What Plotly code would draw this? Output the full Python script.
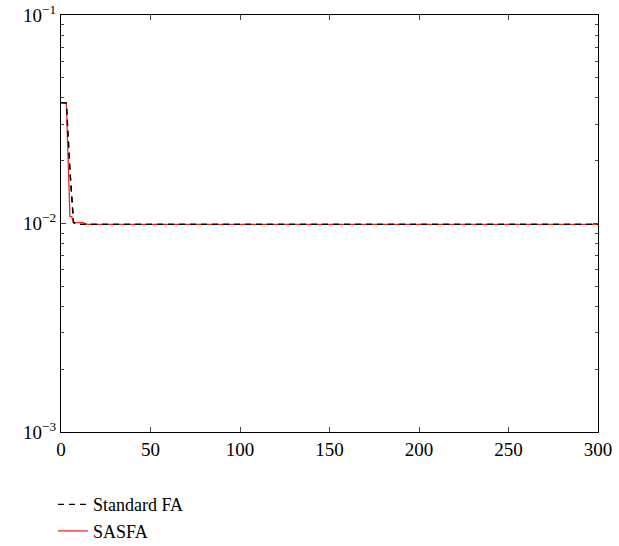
import plotly.graph_objects as go

# Standard FA convergence curve
fa_x = [0, 1, 2, 3, 5, 7, 8, 10, 15, 20, 300]
fa_y = [0.038, 0.038, 0.038, 0.0378, 0.018, 0.0101, 0.0100, 0.0099, 0.0099, 0.0099, 0.0099]

# SASFA convergence curve
sasfa_x = [0, 1, 2, 3, 5, 6, 7, 12, 15, 300]
sasfa_y = [0.038, 0.038, 0.038, 0.0375, 0.0108, 0.0108, 0.0101, 0.0101, 0.0099, 0.0099]

x_ticks = [0, 50, 100, 150, 200, 250, 300]
y_ticks = [0.001, 0.01, 0.1]
y_ticktext = ["10<sup>\u22123</sup>", "10<sup>\u22122</sup>", "10<sup>\u22121</sup>"]
y_minor = [k * 10.0 ** e for e in (-3, -2) for k in range(2, 10)]

fig = go.Figure()
fig.add_trace(go.Scatter(x=fa_x, y=fa_y, mode="lines", name="Standard FA",
                         line=dict(color="black", width=1.3, dash="6px,5px")))
fig.add_trace(go.Scatter(x=sasfa_x, y=sasfa_y, mode="lines", name="SASFA",
                         line=dict(color="#e8262b", width=1.3)))
fig.add_trace(go.Scatter(x=fa_x, y=fa_y, mode="lines", showlegend=False,
                         line=dict(color="black", width=1.3, dash="6px,5px")))

tick_font = dict(family="Liberation Serif, Times New Roman, serif", size=19, color="black")
leg_font = dict(family="Liberation Serif, Times New Roman, serif", size=18, color="black")

fig.update_layout(
    width=619, height=546,
    margin=dict(l=61, r=21, t=15, b=114, autoexpand=False),
    paper_bgcolor="white", plot_bgcolor="white",
    font=tick_font,
    showlegend=True,
    legend=dict(x=-0.015, y=-0.13, xanchor="left", yanchor="top",
                bgcolor="rgba(0,0,0,0)", font=leg_font, tracegroupgap=0),
)
fig.update_xaxes(range=[0, 300], tickvals=x_ticks, ticks="inside", ticklen=5,
                 showline=True, linecolor="black", linewidth=1, mirror="ticks",
                 showgrid=False, zeroline=False, tickfont=tick_font)
fig.update_yaxes(type="log", range=[-3, -1], tickvals=y_ticks, ticktext=y_ticktext,
                 ticks="inside", ticklen=5,
                 showline=True, linecolor="black", linewidth=1, mirror="ticks",
                 showgrid=False, zeroline=False, tickfont=tick_font,
                 minor=dict(tickvals=y_minor, ticks="inside", ticklen=3, showgrid=False))

fig.write_html("out.html")
